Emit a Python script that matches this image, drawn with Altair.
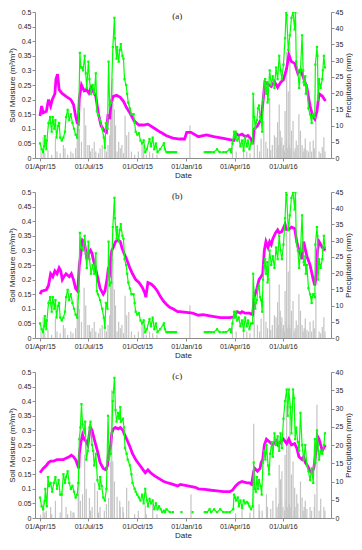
import altair as alt
import pandas as pd

START_MS = int(pd.Timestamp("2015-04-01", tz="UTC").value // 10**6)
DAY_MS = 86400000
END_DAY = 538

TICK_DATES = ["2015-04-01", "2015-07-01", "2015-10-01", "2016-01-01", "2016-04-01", "2016-07-01"]
SM_TICKS = [0, 0.05, 0.1, 0.15, 0.2, 0.25, 0.3, 0.35, 0.4, 0.45, 0.5]
PR_TICKS_AB = [0, 5, 10, 15, 20, 25, 30, 35, 40, 45]
PR_TICKS_C = [0, 5, 10, 15, 20, 25, 30, 35, 40]
PANEL_LABELS = ["(a)", "(b)", "(c)"]

# modelled soil moisture (day since 01/Apr/15, m3/m3)
MODEL_A = [(0,.144),(3,.178),(6,.155),(12,.16),(16,.20),(20,.178),(23,.20),(28,.22),(30,.27),(33,.287),
           (36,.234),(41,.222),(49,.211),(58,.20),(63,.183),(67,.144),(70,.121),(72,.118),(74,.206),(78,.25),
           (83,.23),(87,.234),(92,.222),(96,.242),(100,.228),(105,.211),(110,.15),(115,.11),(121,.093),(125,.088),
           (128,.15),(131,.133),(134,.194),(138,.211),(144,.215),(151,.208),(157,.194),(163,.172),(169,.155),(177,.127),
           (186,.113),(195,.113),(203,.116),(215,.102),(227,.088),(238,.076),(250,.068),(263,.065),(272,.065),(276,.088),
           (284,.088),(298,.073),(313,.079),(327,.073),(345,.067),(359,.062),(365,.06),(369,.084),(374,.077),(380,.082),
           (386,.073),(391,.077),(397,.065),(400,.048),(403,.099),(409,.11),(416,.133),(419,.183),(423,.26),(429,.253),
           (435,.245),(441,.262),(447,.242),(453,.26),(458,.268),(464,.307),(468,.354),(473,.33),(479,.324),(485,.29),
           (490,.302),(496,.273),(502,.24),(508,.178),(513,.144),(517,.133),(521,.161),(525,.22),(531,.212),(537,.195)]

MODEL_B = [(0,.15),(3,.16),(12,.165),(16,.18),(20,.22),(24,.21),(28,.23),(32,.22),(36,.24),(39,.23),
           (42,.20),(45,.21),(49,.22),(55,.21),(59,.22),(63,.20),(67,.17),(71,.16),(74,.25),(77,.29),
           (80,.335),(83,.33),(86,.30),(88,.27),(92,.29),(95,.30),(98,.29),(100,.27),(103,.25),(108,.21),
           (113,.17),(119,.15),(122,.16),(126,.20),(128,.23),(131,.22),(133,.27),(135,.30),(138,.31),(142,.33),
           (147,.335),(151,.33),(154,.31),(158,.29),(163,.27),(169,.24),(174,.22),(180,.20),(186,.19),(192,.175),
           (197,.155),(199,.14),(203,.19),(209,.185),(215,.175),(221,.16),(227,.14),(233,.125),(238,.115),(244,.105),
           (250,.10),(259,.09),(263,.09),(275,.088),(287,.085),(298,.078),(307,.08),(322,.075),(339,.07),(357,.07),
           (365,.072),(368,.085),(371,.09),(377,.085),(380,.09),(386,.085),(394,.085),(400,.08),(403,.14),(408,.17),
           (412,.20),(416,.21),(419,.22),(422,.30),(425,.33),(429,.31),(432,.33),(435,.32),(438,.34),(443,.36),
           (447,.37),(450,.36),(455,.365),(461,.39),(464,.37),(467,.37),(473,.38),(479,.375),(483,.33),(487,.30),
           (493,.27),(496,.33),(502,.28),(508,.25),(514,.20),(517,.18),(520,.22),(522,.30),(525,.33),(531,.31),(537,.30)]

MODEL_C = [(0,.155),(6,.17),(12,.18),(16,.19),(20,.195),(26,.195),(32,.20),(38,.20),(44,.20),(49,.205),
           (55,.21),(59,.215),(63,.21),(67,.20),(70,.185),(73,.17),(74,.22),(77,.26),(80,.285),(83,.27),
           (86,.265),(90,.25),(93,.29),(95,.31),(98,.30),(102,.27),(108,.23),(113,.19),(119,.17),(124,.165),
           (127,.18),(129,.22),(133,.25),(135,.29),(138,.305),(142,.31),(147,.305),(151,.31),(156,.30),(158,.29),
           (163,.27),(169,.245),(174,.22),(180,.20),(186,.185),(192,.17),(198,.155),(203,.165),(208,.155),(215,.145),
           (224,.135),(233,.125),(241,.12),(250,.115),(259,.11),(264,.115),(278,.11),(292,.105),(298,.10),(310,.098),
           (322,.095),(333,.093),(345,.09),(357,.09),(362,.095),(368,.11),(374,.12),(380,.125),(389,.12),(394,.12),
           (398,.115),(402,.16),(404,.17),(409,.16),(414,.17),(416,.19),(419,.20),(422,.25),(426,.27),(432,.26),
           (438,.25),(444,.265),(448,.25),(452,.26),(458,.27),(464,.255),(468,.27),(473,.25),(479,.255),(483,.24),
           (487,.21),(493,.20),(496,.21),(499,.19),(503,.18),(508,.16),(511,.155),(515,.17),(520,.24),(522,.28),
           (525,.27),(528,.25),(531,.23),(534,.24),(537,.25)]

# observed soil moisture
OBS_AB = [(0,.05),(3,.03),(6,.02),(8,.04),(9,.075),(12,.03),(13,.06),(16,.12),(19,.14),(20,.12),(22,.09),(24,.14),
          (27,.10),(29,.13),(31,.07),(34,.11),(36,.12),(38,.07),(41,.06),(44,.07),(47,.09),(49,.14),(52,.165),
          (55,.13),(58,.15),(61,.12),(64,.10),(67,.08),(70,.07),(73,.16),(75,.36),(77,.31),(79,.31),(81,.30),
          (84,.35),(86,.29),(88,.24),(91,.33),(93,.27),(96,.22),(99,.25),(102,.22),(105,.29),(107,.16),(109,.15),
          (113,.13),(117,.10),(120,.07),(122,.035),(124,.12),(127,.10),(129,.33),(131,.18),(134,.19),(137,.38),
          (140,.48),(141,.41),(144,.34),(145,.38),(148,.33),(150,.37),(152,.39),(155,.35),(157,.34),(159,.27),
          (162,.25),(164,.22),(166,.19),(169,.17),(172,.15),(176,.15),(178,.12),(180,.09),(183,.08),(186,.085),
          (189,.06),(192,.05),(195,.06),(198,.02),(201,.03),(206,.065),(209,.04),(212,.07),(215,.03),(218,.05),
          (221,.02),(226,.03),(233,.05),(235,.03),(238,.02),(241,.02),(244,.02),(247,.02),(250,.02),(253,.02),
          (256,.02),(310,.02),(314,.02),(318,.02),(322,.02),(327,.02),(333,.03),(338,.02),(345,.02),(350,.02),
          (357,.03),(359.5,.02),(362,.05),(365,.09),(366.5,.07),(368,.09),(371,.06),(374,.07),(377,.04),(380,.06),
          (383,.025),(386,.07),(389,.04),(391.5,.06),(394,.03),(397,.05),(400,.05),(401,.22),(403,.14),(405,.10),
          (406,.12),(408,.13),(410,.17),(412,.18),(414,.14),(416,.13),(418,.09),(419.5,.20),(422,.25),(423.5,.27),
          (425,.22),(427.5,.26),(428,.19),(429,.20),(432,.30),(435,.25),(438,.28),(441,.24),(444,.31),(447,.27),
          (450,.35),(452.5,.30),(455,.27),(458,.32),(461,.41),(463,.50),(464,.49),(467,.37),(470,.42),(473,.48),
          (476,.50),(479,.44),(480.5,.50),(482,.33),(485,.30),(487.5,.24),(490,.30),(493,.42),(495,.30),(496,.26),
          (497,.25),(499,.28),(500,.22),(502,.25),(505,.17),(508,.15),(511,.12),(512,.14),(514,.15),(517,.14),
          (518,.32),(521,.38),(522,.35),(523,.20),(525,.27),(528,.24),(531,.27),(532,.30),(534,.35),(536,.31)]

OBS_C = [(0,.07),(3,.04),(6,.03),(9,.06),(10,.10),(13,.04),(15,.14),(17,.11),(20,.12),(23,.09),(26,.12),(29,.14),
         (32,.10),(35,.13),(38,.08),(41,.08),(44,.15),(47,.12),(49,.14),(52,.16),(55,.12),(58,.10),(61,.11),(64,.09),
         (67,.07),(70,.08),(72,.12),(74,.27),(76,.31),(78,.39),(80,.32),(83,.29),(85,.33),(87,.20),(90,.23),(93,.31),
         (95,.33),(98,.25),(100,.23),(102,.18),(105,.22),(108,.13),(112,.10),(113,.14),(116,.11),(119,.07),(122,.06),
         (125,.10),(128,.35),(130,.20),(133,.22),(135,.29),(137,.40),(138,.43),(140,.48),(142,.37),(144,.33),(147,.36),
         (149,.34),(151,.38),(152,.33),(156,.34),(158,.31),(160,.24),(163,.22),(165,.20),(169,.18),(172,.15),(174,.12),
         (178,.10),(180,.09),(183,.08),(186,.07),(189,.06),(192,.08),(195,.05),(198,.10),(201,.06),(203,.04),(206,.065),
         (209,.05),(212,.06),(215,.03),(218,.05),(221,.03),(224,.04),(227,.03),(230,.02),(233,.025),(235,.02),(238,.03),
         (244,.02),(250,.02),(266,.02),(287,.02),(310,.02),(314,.02),(319,.03),(322,.02),(327.5,.03),(333,.02),(339,.03),
         (345,.02),(351,.02),(357,.02),(363.5,.03),(365,.08),(367,.07),(369,.06),(372,.07),(374,.04),(377,.06),
         (380,.035),(383,.06),(386,.05),(389,.055),(391.5,.05),(394,.04),(397,.03),(400,.04),(402,.19),(404,.10),
         (406,.09),(408,.14),(410,.10),(412,.13),(415,.11),(417,.08),(419.5,.19),(422,.23),(424,.20),(426,.25),
         (429,.18),(431,.15),(433,.22),(436,.26),(438,.21),(441,.29),(444,.25),(447,.28),(450,.23),(452.5,.29),
         (455,.24),(458,.34),(461,.40),(464,.44),(466,.35),(468,.44),(471,.38),(473,.29),(476,.44),(478,.41),
         (480,.27),(482,.31),(485,.26),(487.5,.23),(490,.36),(493,.25),(496,.20),(499,.25),(502,.18),(505,.16),
         (508,.13),(511,.17),(514,.12),(517,.27),(518,.19),(521,.30),(523,.25),(525,.20),(528,.23),(531,.22),
         (534,.25),(536,.29)]

# daily precipitation (mm)
PREC_AB = [(2,2.3),(6,6.4),(15,2.5),(29,6),(32,2),(44,4),(47,3),(67,3),(70,13.5),(72,10),(74,9),(78,5),(83,15.5),
           (86,10),(90,4),(93,4),(102,5),(105,2),(117,4),(122,6),(125,2),(128,4),(131,7),(133,16),(135,19.5),
           (137,24.5),(140,15),(142,10),(148,5),(154,4),(160,13),(163,7),(167,8),(172,2),(192,5),(195,4),(206,2),
           (282,10),(362,3.3),(369,2),(383,6),(389,2),(403,8.4),(409,4),(416,6),(421,11.4),(425,5),(432,18.5),
           (437,4),(441,7),(444,6.4),(447,11),(450,16.5),(452,8.4),(455,6.4),(458,4),(461,14.5),(464,32.7),
           (467,20.5),(470,35.7),(473,8.4),(476,11.4),(482,5.4),(487,13.5),(490,8.4),(493,4),(499,6),(505,2),
           (508,5),(514,5.4),(519,14),(531,3.4),(534,6.4)]
PREC_C = [(1,0.9),(6,4.7),(12,2),(20,3),(29,4.7),(41,7.4),(49,3),(64,1.5),(72,6.5),(73,14.6),(76,4.7),(80,6.5),
          (84,17.3),(87,8),(93,5.5),(103,9.7),(108,7.4),(121,2),(125,3.8),(129,5.5),(133,15.5),(135,35),(137,15.5),
          (140,10),(145,3.8),(150,4.7),(156,3),(163,8.3),(167,4.7),(198,3.4),(212,2.5),(284,6.5),(368,1.2),(380,3.4),
          (402,25.8),(412,3.8),(418,2),(426,6.5),(438,4.7),(444,8.3),(450,14.6),(452.5,10.6),(455,12.8),(461,17.3),
          (464,30.8),(467,21.8),(470,29),(473,11.9),(476,15.5),(479,8.3),(483,6.5),(490,10),(493,5.6),(499,4.7),
          (508,3),(517,6.5),(521,31),(528,3.8),(534,3)]
PREC_SMALL = [(9,1.5),(22,1),(38,1.5),(52,1),(58,2),(62,1.5),(95,2),(98,3),(110,1.5),(113,3),(145,2),(151,3),
              (157,1.5),(178,1),(185,2),(200,1),(212,1.5),(220,1),(395,1.5),(413,2),(428,3),(434,2.5),(446,3),
              (449,4),(453,5),(457,3),(460,2),(463,5),(466,3),(469,4),(472,3),(478,2),(480,3),(485,4),(495,2),
              (497,3),(502,2.5),(511,2),(516,3),(525,2),(528,1.5),(536,2)]

W, H = 296, 146
FONT = "Liberation Sans"
TICK_MS = [int(pd.Timestamp(d, tz="UTC").value // 10**6) for d in TICK_DATES]


def frame(pairs, col):
    df = pd.DataFrame(pairs, columns=["day", col])
    df["t"] = START_MS + df["day"] * DAY_MS
    return df


def panel(model, obs, prec, pmax, pticks, label):
    dm = frame(model, "v")
    do = frame(obs, "v")
    do["seg"] = (do["day"].diff() > 8).cumsum()
    dp = frame(prec + PREC_SMALL, "p")
    dl = frame([(258, 0.486)], "v")
    dl["s"] = label

    X = alt.X("t:T",
              scale=alt.Scale(type="utc", domain=[START_MS, START_MS + END_DAY * DAY_MS]),
              axis=alt.Axis(values=TICK_MS, format="%d/%b/%y", title="Date",
                            labelFlush=False, labelOverlap=False))
    Y = alt.Y("v:Q", scale=alt.Scale(domain=[0, 0.5], nice=False),
              axis=alt.Axis(values=SM_TICKS, format=".2~f", title="Soil Moisture (m³/m³)",
                            orient="left", titlePadding=1))
    bars = alt.Chart(dp).mark_bar(size=1.2, color="#c4c4c4", clip=True).encode(
        x=X,
        y=alt.Y("p:Q", scale=alt.Scale(domain=[0, pmax], nice=False),
                axis=alt.Axis(values=pticks, title="Precipitation (mm)", orient="right",
                              titleAngle=270, titleBaseline="top", titlePadding=2)))
    mline = alt.Chart(dm).mark_line(color="#ff00ff", strokeWidth=2.8, clip=True).encode(x=X, y=Y)
    oline = alt.Chart(do).mark_line(color="#00ff00", strokeWidth=1.2, clip=True).encode(
        x=X, y=Y, detail="seg:N")
    opts = alt.Chart(do).mark_square(color="#00ff00", size=5, opacity=1, clip=True).encode(x=X, y=Y)
    txt = alt.Chart(dl).mark_text(font="Liberation Serif", fontSize=9, color="#222222").encode(
        x=X, y=Y, text="s:N")
    left = alt.layer(mline, oline, opts, txt)
    return alt.layer(bars, left).resolve_scale(y="independent").properties(width=W, height=H)


pa = panel(MODEL_A, OBS_AB, PREC_AB, 45, PR_TICKS_AB, PANEL_LABELS[0])
pb = panel(MODEL_B, OBS_AB, PREC_AB, 45, PR_TICKS_AB, PANEL_LABELS[1])
pc = panel(MODEL_C, OBS_C, PREC_C, 40, PR_TICKS_C, PANEL_LABELS[2])

chart = alt.vconcat(pa, pb, pc, spacing=9).properties(padding=0).configure_view(
    stroke=None
).configure_axis(
    labelFont=FONT, titleFont=FONT, labelFontSize=7, titleFontSize=8, titleFontWeight="normal",
    domainColor="#8c8c8c", tickColor="#8c8c8c", labelColor="#262626", titleColor="#262626",
    tickSize=3, labelPadding=1, titlePadding=2, grid=False
)

chart.save("out.html", embed_options={"renderer": "svg", "actions": False})
